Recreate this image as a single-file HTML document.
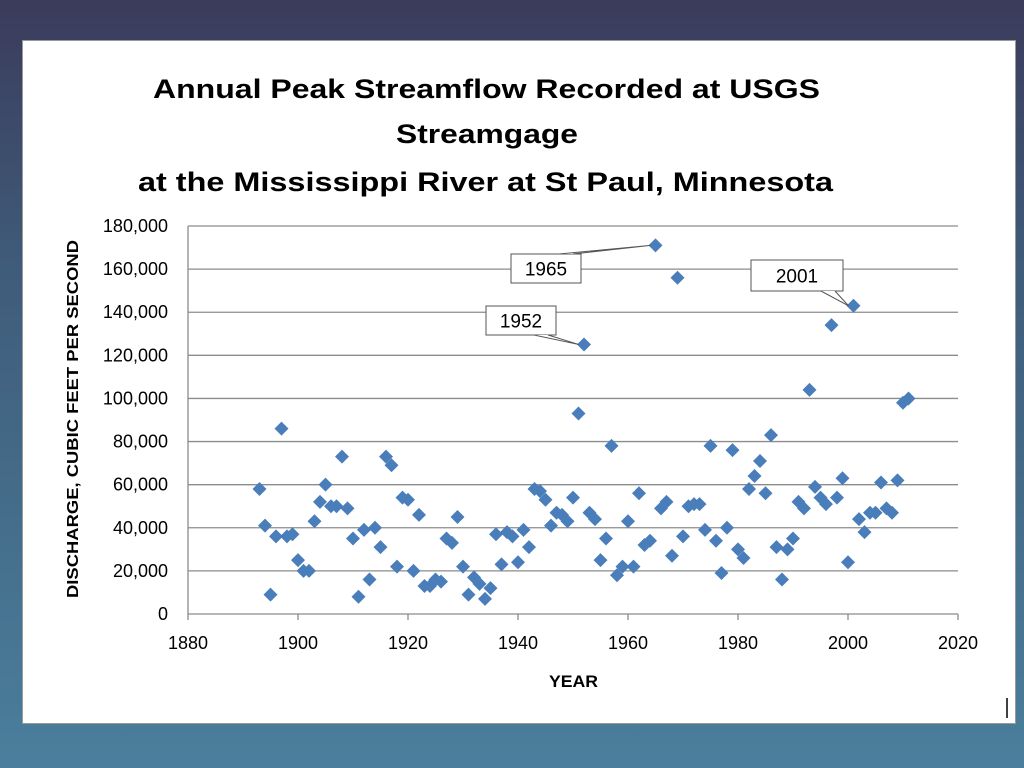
<!DOCTYPE html>
<html><head><meta charset="utf-8"><style>
body{margin:0;width:1024px;height:768px;overflow:hidden;background:linear-gradient(#3b3b5b 0%,#3f5c7a 35%,#4a7f9c 100%);font-family:"Liberation Sans",sans-serif}
#panel{position:absolute;left:22px;top:40px;width:992px;height:682px;background:#fff;border:1px solid #999}
</style></head><body>
<div id="panel"></div>
<svg width="1024" height="768" style="position:absolute;left:0;top:0">
<g font-family="Liberation Sans, sans-serif" font-weight="bold" font-size="27" fill="#000">
<text x="153" y="98" textLength="667" lengthAdjust="spacingAndGlyphs">Annual Peak Streamflow Recorded at USGS</text>
<text x="396" y="143" textLength="182" lengthAdjust="spacingAndGlyphs">Streamgage</text>
<text x="138" y="191" textLength="695" lengthAdjust="spacingAndGlyphs">at the Mississippi River at St Paul, Minnesota</text>
</g>
<g id="grid"></g><g id="axes"></g><g id="pts"></g><g id="callouts"></g>
<text x="549" y="687" font-weight="bold" font-size="17" textLength="49" lengthAdjust="spacingAndGlyphs">YEAR</text>
<text transform="translate(78,598) rotate(-90)" font-weight="bold" font-size="16" textLength="358" lengthAdjust="spacingAndGlyphs">DISCHARGE, CUBIC FEET PER SECOND</text>
<line x1="1007" y1="698" x2="1007" y2="718" stroke="#000" stroke-width="1.5"/>
</svg>
<script>
const years=[1893,1894,1895,1896,1897,1898,1899,1900,1901,1902,1903,1904,1905,1906,1907,1908,1909,1910,1911,1912,1913,1914,1915,1916,1917,1918,1919,1920,1921,1922,1923,1924,1925,1926,1927,1928,1929,1930,1931,1932,1933,1934,1935,1936,1937,1938,1939,1940,1941,1942,1943,1944,1945,1946,1947,1948,1949,1950,1951,1952,1953,1954,1955,1956,1957,1958,1959,1960,1961,1962,1963,1964,1965,1966,1967,1968,1969,1970,1971,1972,1973,1974,1975,1976,1977,1978,1979,1980,1981,1982,1983,1984,1985,1986,1987,1988,1989,1990,1991,1992,1993,1994,1995,1996,1997,1998,1999,2000,2001,2002,2003,2004,2005,2006,2007,2008,2009,2010,2011];
const flows=[58,41,9,36,86,36,37,25,20,20,43,52,60,50,50,73,49,35,8,39,16,40,31,73,69,22,54,53,20,46,13,13,16,15,35,33,45,22,9,17,14,7,12,37,23,38,36,24,39,31,58,57,53,41,47,46,43,54,93,125,47,44,25,35,78,18,22,43,22,56,32,34,171,49,52,27,156,36,50,51,51,39,78,34,19,40,76,30,26,58,64,71,56,83,31,16,30,35,52,49,104,59,54,51,134,54,63,24,143,44,38,47,47,61,49,47,62,98,100];
const yTicks=[0,20,40,60,80,100,120,140,160,180];
const xTicks=[1880,1900,1920,1940,1960,1980,2000,2020];
const callouts=[{label:"1965",year:1965},{label:"1952",year:1952},{label:"2001",year:2001}];
const calloutBoxes={"1965":[511,254,70,29,0],"1952":[486,306,70,29,1],"2001":[751,260,92,31,1]};
const X=y=>188+(y-1880)*(770/140), Y=v=>614-v*(388/180);
const NS="http://www.w3.org/2000/svg";
function mk(tag,attrs,parent){const e=document.createElementNS(NS,tag);for(const k in attrs)e.setAttribute(k,attrs[k]);document.getElementById(parent).appendChild(e);return e;}
yTicks.forEach(t=>{
 const l=mk('line',{x1:188,x2:958,y1:Y(t),y2:Y(t),stroke:'#8c8c8c','stroke-width':1.3},'grid');
 
 
 const tx=mk('text',{x:168,y:Y(t)+6,'text-anchor':'end','font-size':18},'axes');tx.textContent=t===0?'0':t+',000';
 
 
});
xTicks.forEach(t=>{
 mk('line',{x1:X(t),x2:X(t),y1:614,y2:620,stroke:'#8c8c8c','stroke-width':1.3},'axes');
 const tx=mk('text',{x:X(t),y:649,'text-anchor':'middle','font-size':18},'axes');tx.textContent=t;
 
 
});
mk('line',{x1:188,x2:188,y1:226,y2:614,stroke:'#8c8c8c','stroke-width':1.3},'axes');
years.forEach((yr,i)=>{
 const cx=X(yr),cy=Y(flows[i]),r=7;
 const p=mk('polygon',{points:`${cx},${cy-r} ${cx+r},${cy} ${cx},${cy+r} ${cx-r},${cy}`,fill:'#4a7ebb'},'pts');
 
 
});
callouts.forEach(c=>{
 const i=years.indexOf(c.year);const px=X(c.year),py=Y(flows[i]);
 const [bx,by,bw,bh,bottom]=calloutBoxes[c.label];
 const ey=by+(bottom?bh:0);
 mk('polygon',{points:`${bx},${by} ${bx+bw},${by} ${bx+bw},${by+bh} ${bx},${by+bh}`,fill:'#fff',stroke:'#555','stroke-width':1},'callouts');
 mk('polyline',{points:`${bx+bw-22},${ey} ${px-5},${py} ${bx+bw-8},${ey}`,fill:'#fff',stroke:'#555','stroke-width':1},'callouts');
 const tx=mk('text',{x:bx+bw/2,y:by+bh/2+7,'text-anchor':'middle','font-size':19},'callouts');tx.textContent=c.label;
 
 
});
</script>
</body></html>
